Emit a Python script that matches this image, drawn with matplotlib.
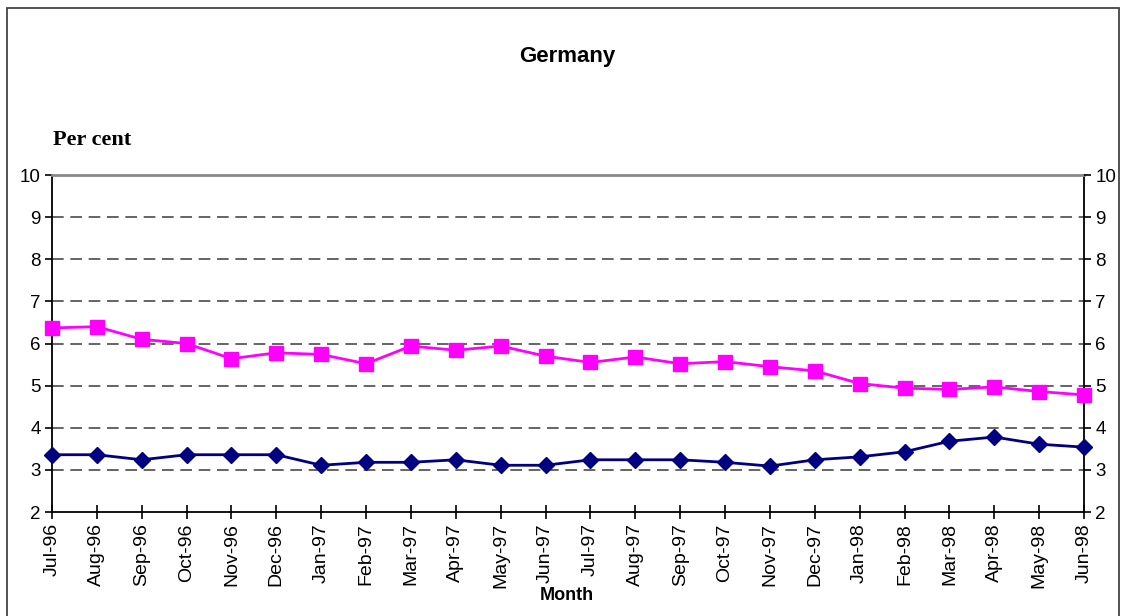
import matplotlib.pyplot as plt
from matplotlib.patches import Rectangle

months = ["Jul-96", "Aug-96", "Sep-96", "Oct-96", "Nov-96", "Dec-96",
          "Jan-97", "Feb-97", "Mar-97", "Apr-97", "May-97", "Jun-97",
          "Jul-97", "Aug-97", "Sep-97", "Oct-97", "Nov-97", "Dec-97",
          "Jan-98", "Feb-98", "Mar-98", "Apr-98", "May-98", "Jun-98"]

upper_series = [6.37, 6.40, 6.10, 6.00, 5.64, 5.78, 5.74, 5.52,
                5.94, 5.84, 5.94, 5.70, 5.55, 5.68, 5.52, 5.57,
                5.45, 5.35, 5.05, 4.94, 4.91, 4.97, 4.86, 4.78]

lower_series = [3.36, 3.36, 3.24, 3.36, 3.36, 3.36, 3.11, 3.18,
                3.18, 3.24, 3.11, 3.11, 3.24, 3.24, 3.24, 3.18,
                3.09, 3.24, 3.31, 3.43, 3.68, 3.78, 3.61, 3.54]

y_ticks = list(range(2, 11))

sans = "Liberation Sans"
serif = "Liberation Serif"

fig = plt.figure(figsize=(11.25, 6.16), dpi=100)
ax = fig.add_axes([0.0462, 0.1688, 0.9174, 0.5471])

x = list(range(len(months)))
ax.plot(x, lower_series, color="#000080", lw=2, marker="D", ms=8.5,
        clip_on=False, zorder=4)
ax.plot(x, upper_series, color="#FF00FF", lw=2, marker="s", ms=9.5,
        clip_on=False, zorder=4)

ax.set_xlim(0, len(months) - 1)
ax.set_ylim(2, 10)
ax.set_yticks(y_ticks)
ax.set_xticks(x)
ax.set_xticklabels(months, rotation=90, fontsize=14, family=sans)
for lab in ax.get_yticklabels():
    lab.set_family(sans)
    lab.set_fontsize(13.5)

# dashed horizontal guides
for v in y_ticks[1:-1]:
    ax.axhline(v, color="#4a4a4a", lw=1.2, ls=(0, (7, 4)), zorder=1)

ax.spines["top"].set_color("#888888")
ax.spines["top"].set_linewidth(2)
for side in ("left", "right", "bottom"):
    ax.spines[side].set_linewidth(1.3)
    ax.spines[side].set_color("black")

ax.tick_params(axis="y", direction="out", length=5, width=1.2, pad=3)
ax.tick_params(axis="x", direction="inout", length=10, width=1.2, pad=3)

ax2 = ax.twinx()
ax2.set_ylim(2, 10)
ax2.set_yticks(y_ticks)
for lab in ax2.get_yticklabels():
    lab.set_family(sans)
    lab.set_fontsize(13.5)
ax2.tick_params(axis="y", direction="out", length=5, width=1.2, pad=3)
for side in ax2.spines:
    ax2.spines[side].set_visible(False)

fig.text(0.504, 0.909, "Germany", ha="center", va="center",
         fontsize=16, fontweight="bold", family=sans)
fig.text(0.047, 0.773, "Per cent", ha="left", va="center",
         fontsize=16, fontweight="bold", family=serif)
fig.text(0.504, 0.034, "Month", ha="center", va="center",
         fontsize=13, fontweight="bold", family=sans)

# chart frame
fig.patches.append(Rectangle((7 / 1125, -0.05), 1112 / 1125, 1.05 - 8 / 616,
                             transform=fig.transFigure, fill=False,
                             edgecolor="#444444", lw=1.3))

fig.savefig("out.png", dpi=100)
